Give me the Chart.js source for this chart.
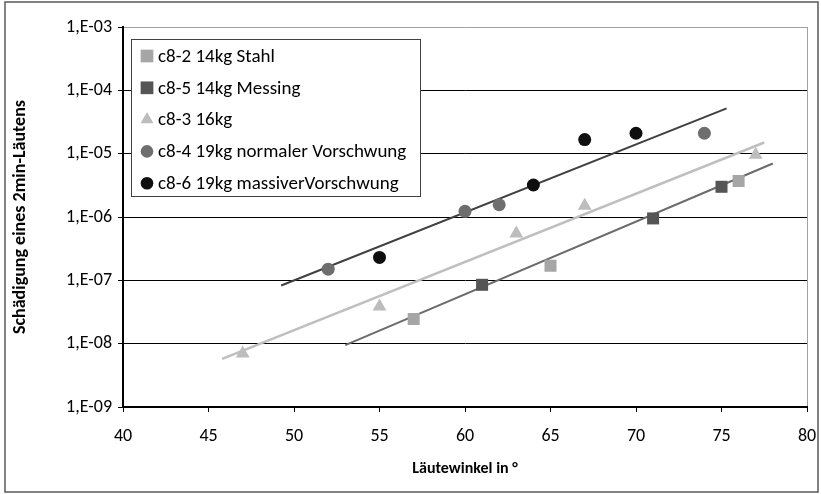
<!DOCTYPE html>
<html>
<head>
<meta charset="utf-8">
<script src="https://cdn.jsdelivr.net/npm/chart.js@4/dist/chart.umd.min.js"></script>
<style>
  html, body { margin: 0; padding: 0; background: #fff; }
  #wrap { width: 821px; height: 494px; }
</style>
</head>
<body>
<div id="wrap"><canvas id="chart" width="821" height="494"></canvas></div>
<script>
// Läutewinkel (x) and Schädigung (y) per series
const stahlX = [57, 65, 76];
const stahlY = [2.45e-8, 1.7e-7, 3.7e-6];
const messingX = [61, 71, 75];
const messingY = [8.5e-8, 9.5e-7, 3.0e-6];
const kg16X = [47, 55, 63, 67, 77];
const kg16Y = [7e-9, 3.85e-8, 5.5e-7, 1.5e-6, 9.6e-6];
const normalX = [52, 60, 62, 74];
const normalY = [1.5e-7, 1.23e-6, 1.56e-6, 2.1e-5];
const massivX = [55, 64, 67, 70];
const massivY = [2.3e-7, 3.2e-6, 1.67e-5, 2.1e-5];

// trend line end points (start, end)
const trend19X = [49.25, 75.3];
const trend19Y = [8.3e-8, 5.2e-5];
const trend16X = [45.8, 77.5];
const trend16Y = [5.75e-9, 1.5e-5];
const trend14X = [53, 78];
const trend14Y = [9.5e-9, 7.0e-6];

const xTicks = [40, 45, 50, 55, 60, 65, 70, 75, 80];
const yTicks = [1e-9, 1e-8, 1e-7, 1e-6, 1e-5, 1e-4, 1e-3];
const yTickLabels = ['1,E-09', '1,E-08', '1,E-07', '1,E-06', '1,E-05', '1,E-04', '1,E-03'];

const FONT = 'Carlito, Calibri, Lato, sans-serif';

function pts(xs, ys) {
  return xs.map((x, i) => ({ x: x, y: ys[i] }));
}

function markerSet(label, xs, ys, style, color, radius) {
  return {
    type: 'scatter', label: label, data: pts(xs, ys),
    pointStyle: style, pointRadius: radius, pointHoverRadius: radius,
    backgroundColor: color, borderWidth: 0, showLine: false,
    inLegend: true, order: 1
  };
}

function trendSet(xs, ys, color, width) {
  return {
    type: 'line', label: '', data: pts(xs, ys),
    borderColor: color, borderWidth: width, pointRadius: 0,
    fill: false, tension: 0, inLegend: false, order: 5
  };
}

// legend box drawn inside the plot, like the original
const boxLegend = {
  id: 'boxLegend',
  beforeDraw(chart) {
    const ctx = chart.ctx;
    ctx.save();
    ctx.fillStyle = '#fff';
    ctx.fillRect(0, 0, chart.width, chart.height);
    ctx.restore();
  },
  afterDraw(chart) {
    const ctx = chart.ctx;
    ctx.save();
    // outer frame
    ctx.strokeStyle = '#595959';
    ctx.lineWidth = 1.5;
    ctx.strokeRect(5, 2, 813, 490);

    ctx.fillStyle = '#fff';
    ctx.fillRect(131.5, 39.5, 289, 157);
    ctx.strokeStyle = '#404040';
    ctx.lineWidth = 1;
    ctx.strokeRect(131.5, 39.5, 289, 157);

    const items = chart.data.datasets.filter(d => d.inLegend);
    ctx.font = '19px ' + FONT;
    ctx.textBaseline = 'middle';
    items.forEach((d, i) => {
      const y = 56 + i * 31.8;
      ctx.fillStyle = d.backgroundColor;
      Chart.helpers.drawPoint(ctx, {
        pointStyle: d.pointStyle, radius: d.pointStyle === 'circle' ? 6.3 : (d.pointStyle === 'rect' ? 9 : 7.5),
        rotation: 0, borderWidth: 0
      }, 147, y);
      ctx.fillStyle = '#000';
      ctx.fillText(d.label, 158, y + 1);
    });
    ctx.restore();
  }
};

new Chart(document.getElementById('chart'), {
  data: {
    datasets: [
      markerSet('c8-2 14kg Stahl', stahlX, stahlY, 'rect', '#a6a6a6', 8.5),
      markerSet('c8-5 14kg Messing', messingX, messingY, 'rect', '#555555', 8.5),
      markerSet('c8-3 16kg', kg16X, kg16Y, 'triangle', '#bdbdbd', 8),
      markerSet('c8-4 19kg normaler Vorschwung', normalX, normalY, 'circle', '#6e6e6e', 6.5),
      markerSet('c8-6 19kg massiverVorschwung', massivX, massivY, 'circle', '#0f0f0f', 6.5),
      trendSet(trend19X, trend19Y, '#404040', 2),
      trendSet(trend16X, trend16Y, '#bfbfbf', 2.5),
      trendSet(trend14X, trend14Y, '#6b6b6b', 2)
    ]
  },
  options: {
    responsive: false,
    animation: false,
    layout: { padding: { top: 27, right: 14, left: 0, bottom: 0 } },
    plugins: { legend: { display: false }, tooltip: { enabled: false } },
    scales: {
      x: {
        type: 'linear', min: 40, max: 80,
        afterBuildTicks: s => { s.ticks = xTicks.map(v => ({ value: v })); },
        afterFit: s => { s.height = 87; s.paddingLeft = 0; s.paddingRight = 0; },
        border: { color: '#000', width: 2 },
        grid: {
          color: c => (c.tick && c.tick.value === 80) ? '#a0a0a0' : 'rgba(0,0,0,0)',
          tickColor: '#000', tickLength: 5, lineWidth: 1
        },
        ticks: { color: '#000', font: { family: FONT, size: 18 }, padding: 14, maxRotation: 0 },
        title: {
          display: true, text: 'Läutewinkel in °', color: '#000',
          font: { family: FONT, size: 16, weight: 'bold' }, padding: { top: 0, bottom: 15 }
        }
      },
      y: {
        type: 'logarithmic', min: 1e-9, max: 1e-3,
        afterBuildTicks: s => { s.ticks = yTicks.map(v => ({ value: v })); },
        afterFit: s => { s.width = 123; s.paddingTop = 0; s.paddingBottom = 0; },
        border: { color: '#000', width: 2 },
        grid: {
          color: c => (c.tick && c.tick.value === 1e-3) ? '#a0a0a0' : '#000',
          tickColor: '#000', tickLength: 5, lineWidth: 1
        },
        ticks: {
          color: '#000', font: { family: FONT, size: 18 }, padding: 6,
          callback: (v, i) => yTickLabels[i]
        },
        title: {
          display: true, text: 'Schädigung eines 2min-Läutens', color: '#000',
          font: { family: FONT, size: 18, weight: 'bold' }, padding: { top: 10, bottom: 0 }
        }
      }
    }
  },
  plugins: [boxLegend]
});
</script>
</body>
</html>
